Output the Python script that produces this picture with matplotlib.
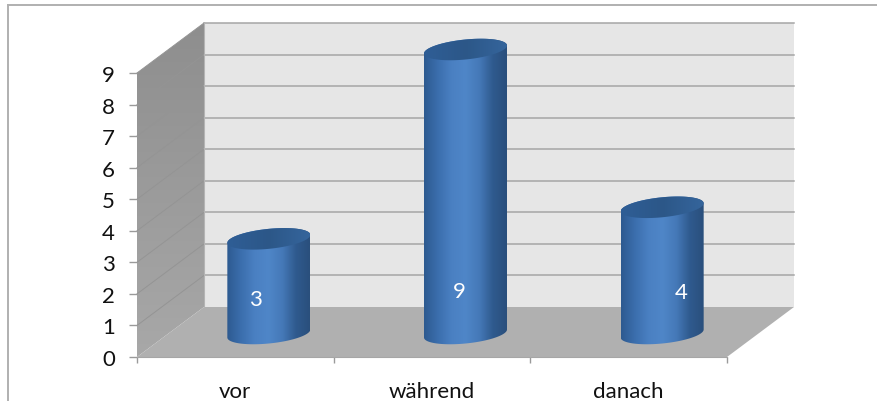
import matplotlib
matplotlib.use('Agg')
import matplotlib.pyplot as plt
from matplotlib.patches import Polygon
import numpy as np

categories = ['vor', 'während', 'danach']
values = [3, 9, 4]
y_ticks = [0, 1, 2, 3, 4, 5, 6, 7, 8, 9]

FIG_W, FIG_H = 877, 402
# front plane of the box in pixels
LEFT, RIGHT, BASE, TOP = 137, 727, 358, 74
PX_X = (RIGHT - LEFT) / len(categories)
PX_Y = (BASE - TOP) / max(y_ticks)
# oblique depth of the box, in data units
DEPTH_X = 67 / PX_X
DEPTH_Y = 50 / PX_Y
# cylinder shape, in data units
RADIUS = 41.5 / PX_X
MINOR = 10 / PX_Y
TILT = 4 / PX_Y
# cylinders stand a little in front of the middle of the floor
FLOOR_Y = DEPTH_Y / 2 - 1.5 / PX_Y

plt.rcParams['font.family'] = ['Lato', 'DejaVu Sans']

fig = plt.figure(figsize=(FIG_W / 100, FIG_H / 100), dpi=100, facecolor='white')
ax = fig.add_axes([LEFT / FIG_W, 1 - BASE / FIG_H, (RIGHT - LEFT) / FIG_W, (BASE - TOP) / FIG_H])
ax.patch.set_visible(False)
n = len(categories)
y_max = max(y_ticks)


def gradient(poly_pts, colors, extent, vertical=False, zorder=2):
    # fill a polygon with a smooth colour ramp
    rgb = np.array([matplotlib.colors.to_rgb(c) for c in colors])
    t = np.linspace(0, 1, 256)
    pos = np.linspace(0, 1, len(colors))
    ramp = np.stack([np.interp(t, pos, rgb[:, i]) for i in range(3)], axis=-1)
    img = ramp[:, None, :] if vertical else ramp[None, :, :]
    clip = Polygon(poly_pts, closed=True, transform=ax.transData, fill=False, edgecolor='none', clip_on=False)
    ax.add_patch(clip)
    im = ax.imshow(img, extent=extent, origin='lower', aspect='auto', zorder=zorder, interpolation='bilinear')
    # the ramps reach outside the axes box, so only the polygon clips them
    im.set_clip_box(fig.bbox)
    im.set_clip_path(clip)


# back wall, side wall and floor
back = [(DEPTH_X, DEPTH_Y), (n + DEPTH_X, DEPTH_Y), (n + DEPTH_X, y_max + DEPTH_Y), (DEPTH_X, y_max + DEPTH_Y)]
ax.add_patch(Polygon(back, facecolor='#e6e6e6', edgecolor='none', clip_on=False, zorder=1))
side = [(0, 0), (DEPTH_X, DEPTH_Y), (DEPTH_X, y_max + DEPTH_Y), (0, y_max)]
gradient(side, ['#a8a8a8', '#8e8e8e'], (0, DEPTH_X, 0, y_max + DEPTH_Y), vertical=True, zorder=1)
floor = [(0, 0), (n, 0), (n + DEPTH_X, DEPTH_Y), (DEPTH_X, DEPTH_Y)]
ax.add_patch(Polygon(floor, facecolor='#b0b0b0', edgecolor='none', clip_on=False, zorder=1))

# gridlines run along the side wall and then the back wall
for v in y_ticks[1:]:
    ax.plot([DEPTH_X, n + DEPTH_X], [v + DEPTH_Y] * 2, color='#a6a6a6', lw=1.1, clip_on=False, zorder=1.5)
    ax.plot([0, DEPTH_X], [v, v + DEPTH_Y], color='#949494', lw=0.7, clip_on=False, zorder=1.5)
ax.plot([DEPTH_X, DEPTH_X], [DEPTH_Y, y_max + DEPTH_Y], color='#b4b4b4', lw=0.8, clip_on=False, zorder=1.5)

# cylinders
lower = np.linspace(np.pi, 2 * np.pi, 91)
upper = np.linspace(0, np.pi, 91)
theta = np.linspace(0, 2 * np.pi, 181)
for i, v in enumerate(values):
    cx = i + 0.5 + DEPTH_X / 2
    # lower half of the base ellipse, then upper half of the top ellipse
    bx = cx + RADIUS * np.cos(lower)
    by = FLOOR_Y + MINOR * np.sin(lower) + TILT * np.cos(lower)
    tx = cx + RADIUS * np.cos(upper)
    ty = FLOOR_Y + v + MINOR * np.sin(upper) + TILT * np.cos(upper)
    body = np.column_stack([np.r_[bx, tx], np.r_[by, ty]])
    gradient(body, ['#2d5a90', '#3b6ead', '#4a80c2', '#4f86c8', '#4579b8', '#2f5a8e', '#2a4f7c'],
             (cx - RADIUS, cx + RADIUS, 0, v + DEPTH_Y + 1), zorder=3)
    ex = cx + RADIUS * np.cos(theta)
    ey = FLOOR_Y + v + MINOR * np.sin(theta) + TILT * np.cos(theta)
    gradient(np.column_stack([ex, ey]), ['#2f5e96', '#2c5788', '#35659c'],
             (cx - RADIUS, cx + RADIUS, FLOOR_Y + v - 2, FLOOR_Y + v + 2), zorder=4)

# data labels sit at slightly different places on each cylinder
label_x = [255, 459, 681]
label_y = [300, 292, 293]
for i, v in enumerate(values):
    ax.text((label_x[i] - LEFT) / PX_X, (BASE - label_y[i]) / PX_Y, str(v), color='white', fontsize=16,
            ha='center', va='center', zorder=5)

ax.set_xlim(0, n)
ax.set_ylim(0, y_max)
ax.set_yticks(y_ticks)
ax.set_xticks(range(n + 1))
ax.set_xticks([i + 0.5 for i in range(n)], categories, minor=True)
ax.set_xticklabels([])
ax.tick_params(axis='y', length=5.8, width=1, color='#9a9a9a', labelsize=16, labelcolor='#111111', pad=10)
ax.tick_params(axis='x', which='major', length=4.3, width=1, color='#9a9a9a')
ax.tick_params(axis='x', which='minor', length=0, labelsize=16, labelcolor='#111111', pad=17)
for name in ['top', 'right', 'left']:
    ax.spines[name].set_visible(False)
ax.spines['bottom'].set_color('#a6a6a6')

# outer chart frame, open on the right
for xs, ys in [([7.5, 877], [6, 6]), ([7.5, 7.5], [6, 402])]:
    fig.add_artist(plt.Line2D(np.array(xs) / FIG_W, 1 - np.array(ys) / FIG_H, color='#b0b0b0', lw=1.4))

fig.savefig('out.png', dpi=100)
